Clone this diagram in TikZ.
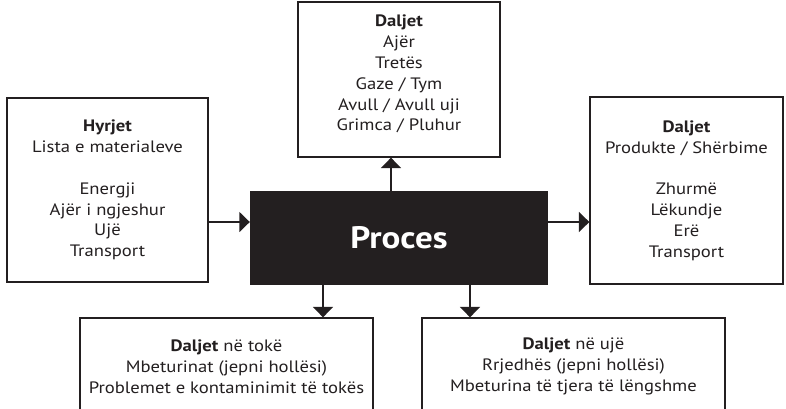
\documentclass[tikz,border=0pt]{standalone}
\usepackage{fontspec}
\setmainfont[FakeStretch=1.13]{PT Sans}
\usetikzlibrary{arrows.meta}
\definecolor{ink}{HTML}{231F20}
\begin{document}
\begin{tikzpicture}[x=1pt,y=-1pt,
  box/.style={draw=ink,line width=1.3pt,fill=white,align=center,text=ink,
    font=\fontsize{16.5}{20.8}\selectfont,inner sep=0pt},
  txt/.style={align=center,text=ink,font=\fontsize{16.5}{20.8}\selectfont,inner sep=0pt},
  arr/.style={draw=ink,line width=1.6pt,-{Triangle[width=20pt,length=10.5pt]}}]
\useasboundingbox (0,0) rectangle (786,408);
\node[box,minimum width=201pt,minimum height=184pt] (in) at (107.5,190)
  {\textbf{Hyrjet}\\Lista e materialeve\\[20.8pt]Energji\\Ajër i ngjeshur\\Ujë\\Transport};
\node[box,minimum width=202pt,minimum height=155pt] (top) at (399,79.5) {};
\node[txt,anchor=north] (toptext) at (399,15)
  {\textbf{Daljet}\\Ajër\\Tretës\\Gaze / Tym\\Avull / Avull uji\\Grimca / Pluhur};
\node[box,minimum width=193pt,minimum height=187pt] (out) at (686.5,190.5)
  {\textbf{Daljet}\\Produkte / Shërbime\\[20.8pt]Zhurmë\\Lëkundje\\Erë\\Transport};
\node[box,minimum width=293pt,minimum height=97pt] (bl) at (226.5,366.5)
  {\textbf{Daljet} në tokë\\Mbeturinat (jepni hollësi)\\Problemet e kontaminimit të tokës};
\node[box,minimum width=303pt,minimum height=97pt] (br) at (573.5,366.5)
  {\textbf{Daljet} në ujë\\Rrjedhës (jepni hollësi)\\Mbeturina të tjera të lëngshme};
\node[fill=ink,text=white,minimum width=298pt,minimum height=94pt,inner sep=0pt,
  font=\fontsize{31}{36}\selectfont\bfseries] (proc) at (399,238) {Proces};
\draw[arr] (in.east |- 0,222) -- (proc.west |- 0,222);
\draw[arr] (proc.east |- 0,222) -- (out.west |- 0,222);
\draw[arr] (proc.north -| 391,0) -- (top.south -| 391,0);
\draw[arr] (proc.south -| 323,0) -- (bl.north -| 323,0);
\draw[arr] (proc.south -| 470,0) -- (br.north -| 470,0);
\end{tikzpicture}
\end{document}
